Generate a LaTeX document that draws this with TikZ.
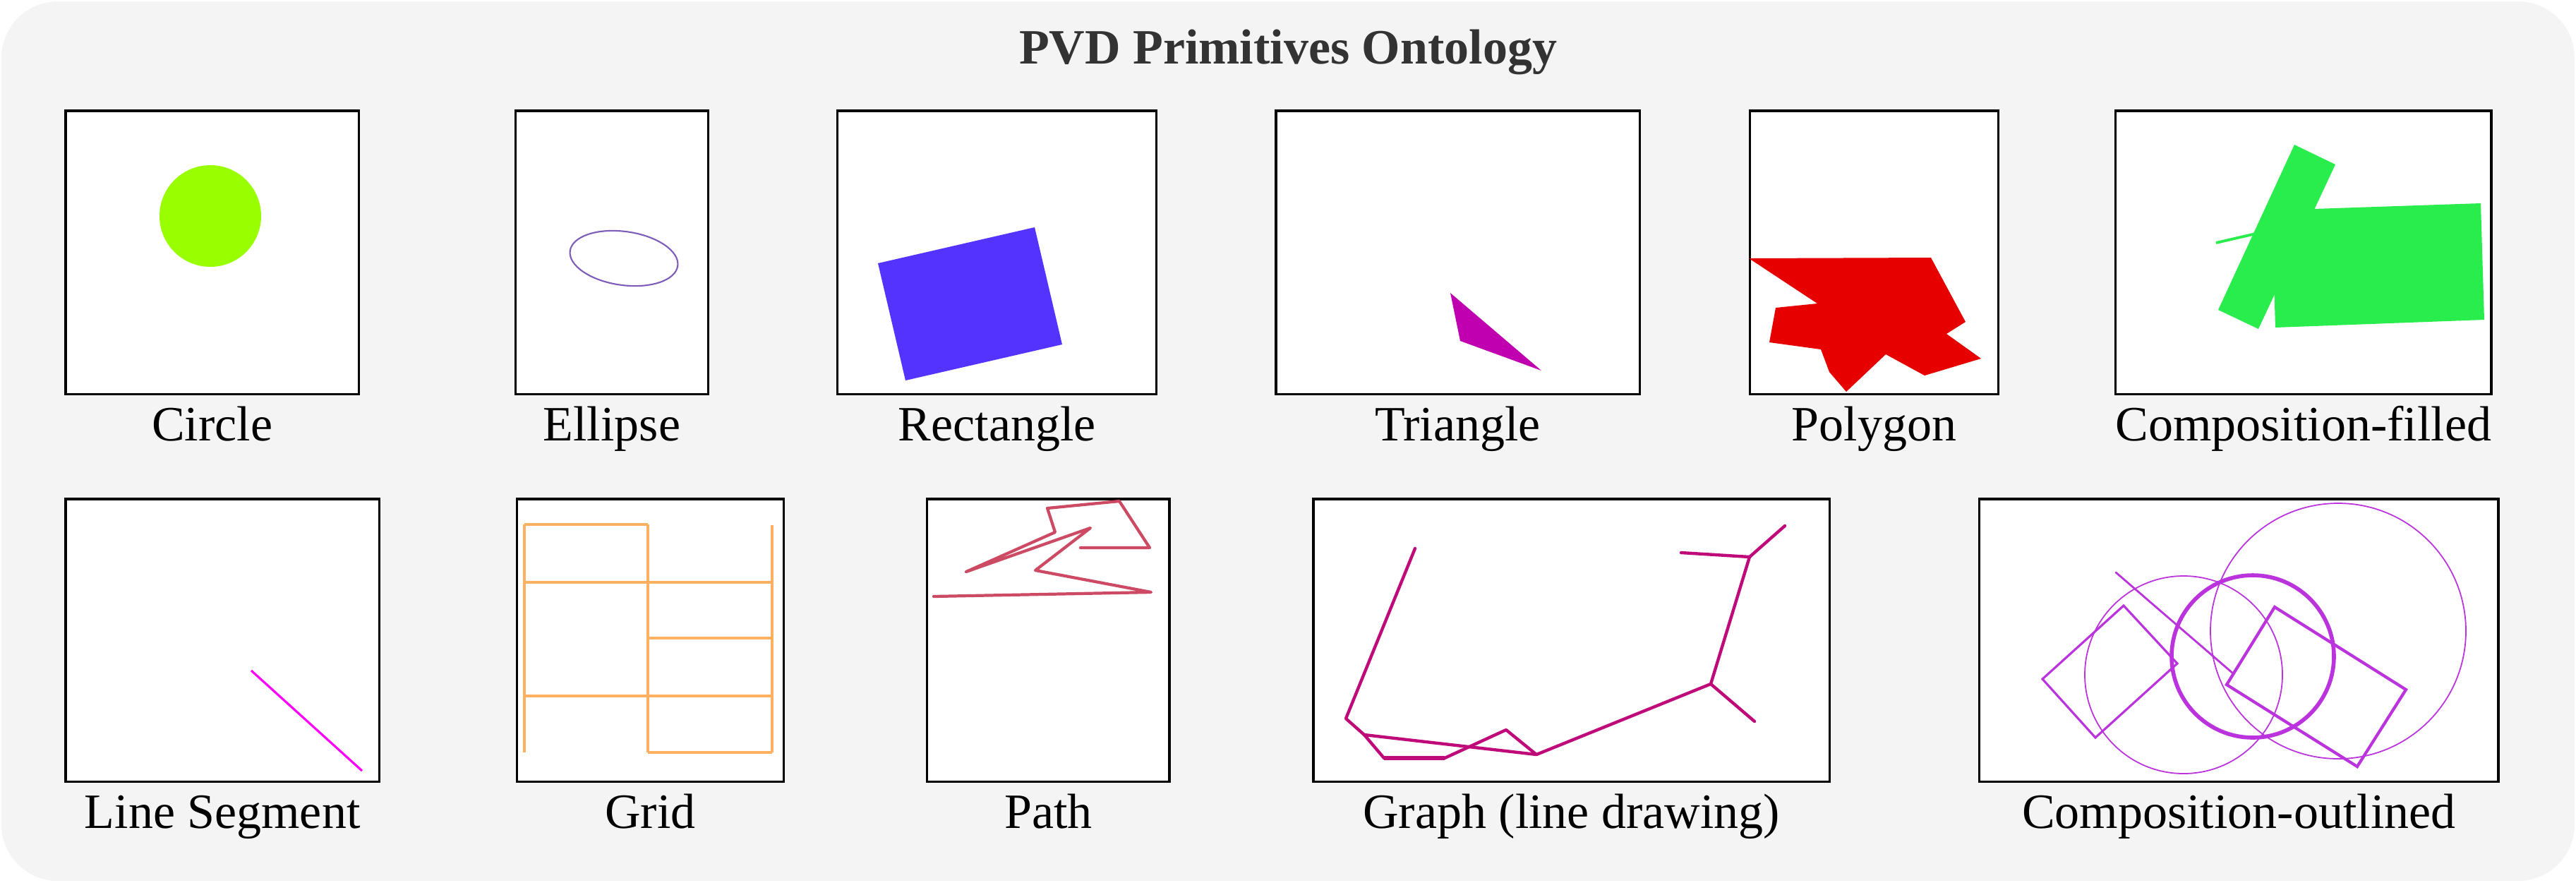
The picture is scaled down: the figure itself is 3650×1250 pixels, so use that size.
\documentclass[tikz,border=0pt]{standalone}
\usepackage{fontspec}
\setmainfont{Liberation Serif}
\usepackage{xcolor}
\usetikzlibrary{positioning}
\definecolor{bggray}{HTML}{F4F4F4}
\definecolor{ttlgray}{HTML}{333333}
\definecolor{cgreen}{HTML}{99FF00}
\definecolor{epurple}{HTML}{7E5CBA}
\definecolor{rblue}{HTML}{5533FF}
\definecolor{tmag}{HTML}{C000B0}
\definecolor{pred}{HTML}{E60000}
\definecolor{fgreen}{HTML}{28ED4C}
\definecolor{lmag}{HTML}{FF00FF}
\definecolor{gorange}{HTML}{FFB060}
\definecolor{prose}{HTML}{CC4A64}
\definecolor{gmag}{HTML}{BF0A7A}
\definecolor{opurple}{HTML}{BB33DD}

\begin{document}
\begin{tikzpicture}[
  x=0.01cm, y=-0.01cm,
  panel/.style={draw, line width=0.9pt, fill=white, inner sep=0pt, outer sep=0pt},
  top/.style={panel, minimum height=4.01cm},
  bot/.style={panel, minimum height=4.00cm},
  cap/.style={font=\fontsize{19.9}{24}\selectfont, inner sep=0pt,
              text height=5mm, text depth=1.5mm, below=1.6mm of #1},
  ttl/.style={font=\fontsize{19.9}{24}\selectfont\bfseries, text=ttlgray, anchor=base},
  stroke/.style={line join=round, line cap=round}
]
\useasboundingbox (0,0) rectangle (3650,1250);
\fill[bggray, rounded corners=0.8cm] (2,2) rectangle (3648,1248);
\node[ttl] (ttl) at (1825,90) {PVD Primitives Ontology};

\node[top, minimum width=4.15cm, anchor=north west] (circ) at (93,157) {};
\node[top, minimum width=2.73cm, right=2.22cm of circ] (ellp) {};
\node[top, minimum width=4.52cm, right=1.83cm of ellp] (rect) {};
\node[top, minimum width=5.15cm, right=1.69cm of rect] (tri) {};
\node[top, minimum width=3.52cm, right=1.56cm of tri] (poly) {};
\node[top, minimum width=5.32cm, right=1.66cm of poly] (cfill) {};

\node[bot, minimum width=4.44cm, anchor=north west] (lseg) at (93,707) {};
\node[bot, minimum width=3.78cm, right=1.95cm of lseg] (grd) {};
\node[bot, minimum width=3.43cm, right=2.03cm of grd] (pth) {};
\node[bot, minimum width=7.31cm, right=2.04cm of pth] (graph) {};
\node[bot, minimum width=7.35cm, right=2.12cm of graph] (cout) {};

\node[cap=circ] {Circle};
\node[cap=ellp] {Ellipse};
\node[cap=rect] {Rectangle};
\node[cap=tri] {Triangle};
\node[cap=poly] {Polygon};
\node[cap=cfill] {Composition-filled};
\node[cap=lseg] {Line Segment};
\node[cap=grd] {Grid};
\node[cap=pth] {Path};
\node[cap=graph] {Graph (line drawing)};
\node[cap=cout] {Composition-outlined};

\fill[cgreen] (298,306) circle[radius=72];
\draw[epurple, line width=0.6pt, rotate around={-8:(884,366)}]
  (884,366) ellipse[x radius=77, y radius=38];
\fill[rblue] (1244,373) -- (1466,322) -- (1505,488) -- (1283,539) -- cycle;
\fill[tmag] (2055,415) -- (2069,483) -- (2184,525) -- cycle;
\fill[pred] (2478,366) -- (2736,365) -- (2785,456) -- (2758,473) -- (2807,508)
  -- (2727,532) -- (2672,502) -- (2616,555) -- (2592,527) -- (2580,495)
  -- (2507,485) -- (2516,436) -- (2575,430) -- cycle;
\draw[fgreen, line width=1.1pt] (3140,344) -- (3205,329);
\fill[fgreen] (3219,298) -- (3515,288) -- (3520,453) -- (3224,464) -- cycle;
\fill[fgreen] (3251,205) -- (3309,233) -- (3200,466) -- (3143,439) -- cycle;

\draw[lmag, line width=0.9pt] (356,950) -- (513,1092);

\draw[gorange, line width=1.2pt]
  (743,743) -- (918,743)
  (743,743) -- (743,1066) (918,743) -- (918,1066) (1094,744) -- (1094,1066)
  (743,825) -- (1094,825) (918,904) -- (1094,904)
  (743,986) -- (1094,986) (918,1066) -- (1094,1066);

\draw[prose, stroke, line width=1.2pt] (1531,776) -- (1629,776) -- (1586,710)
  -- (1484,720) -- (1495,754) -- (1369,810) -- (1545,748) -- (1467,808)
  -- (1631,839) -- (1323,845);

\draw[gmag, stroke, line width=1.25pt] (2005,777) -- (1907,1018) -- (1933,1041)
  -- (1961,1074) (2047,1074) -- (2134,1034) -- (2177,1069) -- (2424,969)
  -- (2479,789) -- (2382,783);
\draw[gmag, stroke, line width=1.25pt] (1933,1041) -- (2177,1069)
  (2424,969) -- (2486,1022) (2479,789) -- (2529,745);
\draw[gmag, line width=1.6pt] (1961,1074) -- (2047,1074);

\draw[opurple, line width=0.5pt] (3313,894) circle[radius=181];
\draw[opurple, line width=0.5pt] (3094,956) circle[radius=140];
\draw[opurple, line width=1.6pt] (3192,930) circle[radius=115];
\draw[opurple, line width=0.9pt] (3009,858) -- (3085,940) -- (2969,1045)
  -- (2894,962) -- cycle;
\draw[opurple, line width=1.2pt] (3223,860) -- (3409,977) -- (3340,1086)
  -- (3155,970) -- cycle;
\draw[opurple, stroke, line width=0.8pt] (2998,811) -- (3164,954);
\end{tikzpicture}
\end{document}
